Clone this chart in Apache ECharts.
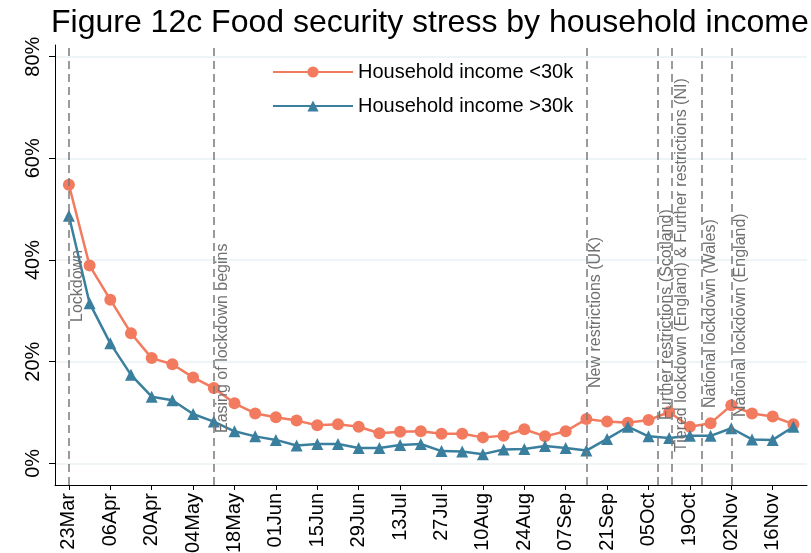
<!DOCTYPE html>
<html lang="en">
<head>
    <meta charset="utf-8">
    <title>Figure 12c Food security stress by household income</title>
    <script src="https://cdn.jsdelivr.net/npm/echarts@6.0.0/dist/echarts.min.js"></script>
    <style>
        html, body { margin: 0; padding: 0; background: #fff; }
        #main { width: 811px; height: 553px; }
    </style>
</head>
<body>
<div id="main"></div>
<script>
    // weekly survey waves, starting 23 March (day 0)
    var lowIncome = [54.8, 38.9, 32.2, 25.6, 20.7, 19.5, 16.9, 14.8, 11.8, 9.8,
        9.05, 8.4, 7.5, 7.7, 7.2, 5.9, 6.2, 6.3, 5.8, 5.8,
        5.1, 5.4, 6.7, 5.3, 6.3, 8.7, 8.2, 8.0, 8.5, 10.1,
        7.2, 7.9, 11.4, 9.8, 9.2, 7.7];
    var highIncome = [48.7, 31.5, 23.6, 17.4, 13.1, 12.4, 9.7, 8.2, 6.3, 5.3,
        4.6, 3.5, 3.8, 3.8, 3.0, 3.0, 3.6, 3.8, 2.4, 2.3,
        1.8, 2.7, 2.8, 3.4, 3.0, 2.5, 4.8, 7.2, 5.3, 5.0,
        5.4, 5.4, 6.9, 4.7, 4.6, 7.2];

    var tickLabels = ['23Mar', '06Apr', '20Apr', '04May', '18May', '01Jun', '15Jun', '29Jun', '13Jul',
        '27Jul', '10Aug', '24Aug', '07Sep', '21Sep', '05Oct', '19Oct', '02Nov', '16Nov'];
    var yTicks = [0, 20, 40, 60, 80];

    // policy events, days after 23 March
    var eventDays = [0, 49, 175, 199, 204, 214, 224];
    var eventNames = ['Lockdown', 'Easing of lockdown begins', 'New restrictions (UK)',
        'Further restrictions (Scotland)', 'Tiered lockdown (England) & Further restrictions (NI)',
        'National lockdown (Wales)', 'National lockdown (England)'];

    var font = "'Liberation Sans', Arial, sans-serif";
    var tickDays = tickLabels.map(function (l, i) { return i * 14; });

    function toPoints(arr) {
        return arr.map(function (v, i) { return [i * 7, v]; });
    }

    // how far up the line each event label starts (px)
    var labelLift = [163, 52, 97, 65, 33, 77, 68];
    var eventLines = eventDays.map(function (d, i) {
        return {
            xAxis: d,
            name: eventNames[i],
            label: { distance: [labelLift[i], 1] }
        };
    });

    var myChart = echarts.init(document.getElementById('main'));
    var option = {
        backgroundColor: '#fff',
        animation: false,
        title: {
            text: 'Figure 12c Food security stress by household income',
            left: 51,
            top: 7,
            padding: 0,
            textStyle: { fontFamily: font, fontSize: 32, fontWeight: 'normal', color: '#000' }
        },
        legend: {
            orient: 'vertical',
            left: 267,
            top: 57,
            itemWidth: 80,
            itemHeight: 14,
            itemGap: 14,
            textStyle: { fontFamily: font, fontSize: 20, color: '#000' },
            data: ['Household income <30k', 'Household income >30k']
        },
        grid: {
            left: 55,
            right: 4,
            top: 45,
            bottom: 68,
            containLabel: false,
            outerBoundsMode: 'none'
        },
        xAxis: {
            type: 'value',
            min: -4.7,
            max: 249.6,
            axisLine: { onZero: false, lineStyle: { color: '#000', width: 1 } },
            axisTick: { show: true, customValues: tickDays, length: 5, lineStyle: { color: '#000' } },
            splitLine: { show: false },
            axisLabel: {
                customValues: tickDays,
                rotate: 90,
                margin: 8,
                fontFamily: font,
                fontSize: 20,
                color: '#000',
                formatter: function (v) { return tickLabels[Math.round(v / 14)]; }
            }
        },
        yAxis: {
            type: 'value',
            min: -4.27,
            max: 82.3,
            axisLine: { show: true, onZero: false, lineStyle: { color: '#000', width: 1 } },
            axisTick: { show: true, customValues: yTicks, length: 6, lineStyle: { color: '#000' } },
            splitLine: { show: true, lineStyle: { color: '#eaf2f3', width: 1.5 } },
            axisLabel: {
                customValues: yTicks,
                rotate: 90,
                margin: 12,
                fontFamily: font,
                fontSize: 20,
                color: '#000',
                formatter: function (v) { return v + '%'; }
            }
        },
        series: [
            {
                name: 'Household income <30k',
                type: 'line',
                data: toPoints(lowIncome),
                symbol: 'circle',
                symbolSize: 12,
                itemStyle: { color: '#f27a5e' },
                lineStyle: { color: '#f27a5e', width: 2.5 },
                z: 3,
                markLine: {
                    silent: true,
                    symbol: ['none', 'none'],
                    lineStyle: { color: '#7a7a7a', type: [8, 5], width: 1.5 },
                    label: {
                        show: true,
                        position: 'insideStartBottom',
                        formatter: '{b}',
                        fontFamily: font,
                        fontSize: 16,
                        color: '#707070'
                    },
                    data: eventLines
                }
            },
            {
                name: 'Household income >30k',
                type: 'line',
                data: toPoints(highIncome),
                symbol: 'triangle',
                symbolSize: 12,
                itemStyle: { color: '#3b7f9f' },
                lineStyle: { color: '#3b7f9f', width: 2.5 },
                z: 3
            }
        ]
    };
    myChart.setOption(option);
</script>
</body>
</html>
